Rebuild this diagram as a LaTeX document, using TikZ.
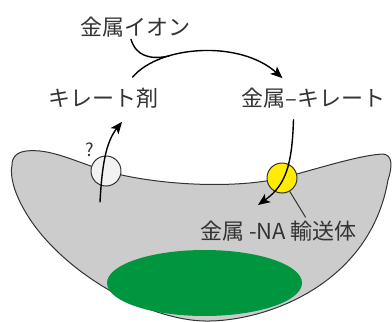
\documentclass[tikz,border=0pt]{standalone}
\usepackage{fontspec}
\setmainfont{Noto Sans CJK JP}
\usepackage{tikz}
\usetikzlibrary{arrows.meta}
\definecolor{cellgray}{RGB}{204,204,204}
\definecolor{ink}{RGB}{51,51,51}
\definecolor{natyellow}{RGB}{255,236,0}
\definecolor{plastid}{RGB}{0,150,64}

\begin{document}
\begin{tikzpicture}[line cap=round,line join=round,>={Stealth[length=12pt,width=10pt,inset=3pt]},x=1pt,y=-1pt,
  lbl/.style={inner sep=0pt,text=ink,font=\fontsize{22}{26}\selectfont},
  port/.style={circle,draw=ink,line width=1pt,minimum size=30pt,inner sep=0pt},
  flow/.style={->,line width=1.4pt,black}]
\useasboundingbox (0,0) rectangle (392,322);
% cell body
\filldraw[fill=cellgray,draw=ink,line width=1pt] (12,165) .. controls (12,150) and (28,150) .. (40,151)
  .. controls (60,153) and (85,165) .. (106,171)
  .. controls (150,184) and (230,190) .. (282,178)
  .. controls (320,168) and (360,155) .. (383,154)
  .. controls (392,155) and (393,165) .. (388,180)
  .. controls (370,285) and (265,322) .. (205,321)
  .. controls (140,320) and (40,260) .. (15,190)
  .. controls (11,178) and (11,170) .. (12,165) -- cycle;
\fill[plastid] (204.5,283) ellipse [x radius=97.5pt,y radius=33pt];
% labels
\node[lbl] (metalion) at (136,27) {金属イオン};
\node[lbl] (chelator) at (103.5,98) {キレート剤};
\node[lbl] (complex) at (313.5,98) {金属–キレート};
\node[lbl] (natlabel) at (278.5,231.5) {金属 -NA 輸送体};
\node[text=ink,inner sep=0pt,font=\fontsize{18}{18}\selectfont] (qmark) at (90,150) {?};
% transporters
\node[port,fill=white!95!black] (unknown) at (106,171) {};
\node[port,fill=natyellow] (nat) at (282,178) {};
\coordinate (upstart) at (100,202);
\coordinate (downend) at (258,205);
\coordinate (merge) at (169,56);
% fluxes
\draw[flow] ([xshift=29pt,yshift=10.5pt]chelator.north) .. controls (160,45) and (240,40) .. ([xshift=-31pt,yshift=9.5pt]complex.north);
\draw[line width=1.4pt] ([xshift=-5pt,yshift=-2pt]metalion.south) .. controls (136,56) and (150,60) .. (merge);
\draw[flow] (upstart) .. controls (102,165) and (106,142) .. ([xshift=18.5pt,yshift=-13.5pt]chelator.south);
\draw[flow] ([xshift=-20pt,yshift=-11.5pt]complex.south) .. controls (292,165) and (286,185) .. (downend);
\draw[ink,line width=1pt] (nat.-60) -- ([xshift=27pt,yshift=4pt]natlabel.north);
\end{tikzpicture}
\end{document}
